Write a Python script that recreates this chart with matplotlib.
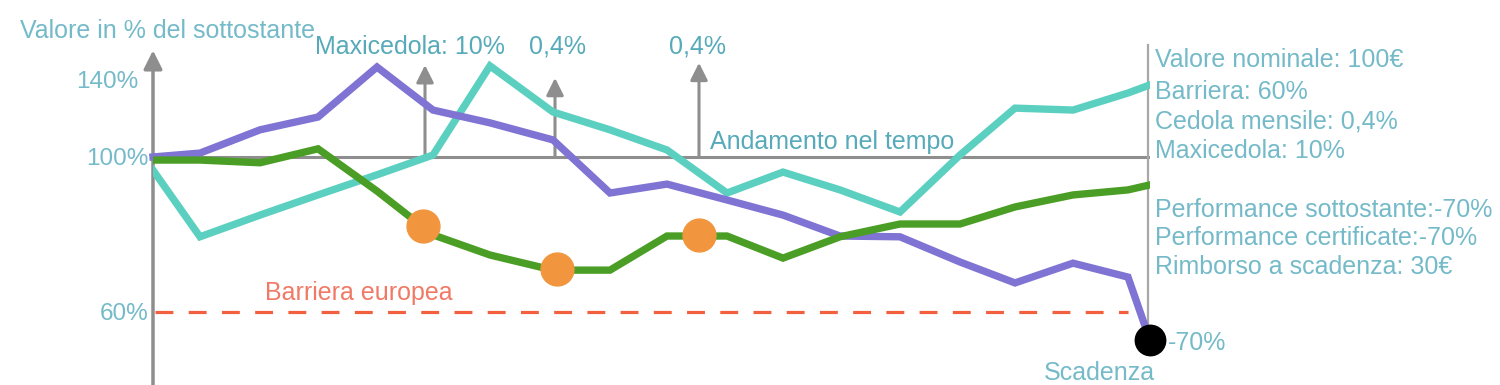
import matplotlib
matplotlib.use('Agg')
import matplotlib.pyplot as plt

plt.rcParams['font.family'] = ['Liberation Sans', 'DejaVu Sans']

# time axis (schematic units along the horizontal axis)
t = [0, 47, 107, 165, 224, 280, 337, 400, 457, 514, 574, 630, 687, 747, 807, 862, 920, 975, 997]

# schematic levels (in % of the underlying, drawn on a non-uniform schematic scale)
purple = [100.0, 101.0, 107.0, 110.3, 123.2, 112.1, 108.8, 104.4, 90.7, 93.0,
          88.9, 85.0, 79.6, 79.4, 72.9, 67.5, 72.6, 69.0, 52.7]
teal = [96.6, 79.4, 85.0, 90.2, 95.4, 100.5, 123.5, 111.6, 107.0, 101.8,
        90.7, 96.1, 91.5, 85.8, 100.5, 112.6, 112.1, 116.5, 118.6]
green = [99.2, 99.2, 98.5, 102.1, 91.2, 79.9, 74.7, 70.8, 70.8, 79.6,
         79.6, 73.9, 79.4, 82.7, 82.7, 87.1, 90.2, 91.5, 92.8]

coupon_t = [270, 404, 546]
coupon_level = [82.2, 71.1, 79.9]
arrow_t = [272, 402, 546]
arrow_top = [123.7, 120.4, 124.3]
arrow_labels = ['Maxicedola: 10%', '0,4%', '0,4%']

maturity_t = 997
maturity_level = 52.7

ytick_pos = [60, 100, 119.9]
ytick_labels = ['60%', '100%', '140%']

info_top = ['Valore nominale: 100€', 'Barriera: 60%', 'Cedola mensile: 0,4%', 'Maxicedola: 10%']
info_top_y = [60, 92, 121, 151]
info_bottom = ['Performance sottostante:-70%', 'Performance certificate:-70%', 'Rimborso a scadenza: 30€']
info_bottom_y = [210, 238, 267]

TXT = '#74BAC9'
TXT2 = '#56AAB9'
GREY = '#8E8E8E'
FS = 18

fig = plt.figure(figsize=(15, 3.85), dpi=100)
ax = fig.add_axes([153 / 1500, 0, 997 / 1500, 1])
ax.set_xlim(0, 997)
ax.set_ylim(41.16, 140.5)
for s in ax.spines.values():
    s.set_visible(False)
ax.set_xticks([])
ax.set_yticks(ytick_pos)
ax.set_yticklabels(ytick_labels, color=TXT, fontsize=17.5)
ax.tick_params(axis='y', length=0, pad=3)
ax.get_yticklabels()[2].set_x(-10 / 997)

# barrier
ax.plot([2, 975], [60, 60], color='#F2603F', lw=2.3, ls=(0, (5.6, 4.8)), zorder=2)
ax.text(112, 65, 'Barriera europea', color='#F07A66', fontsize=FS, ha='left', va='center')

# reference lines
ax.plot([0, 995], [100, 100], color=GREY, lw=2.2, zorder=1)
ax.plot([995, 995], [52.7, 128.9], color='#A8A8A8', lw=1.6, zorder=1, clip_on=False)
ax.annotate('', xy=(0, 127.5), xytext=(0, 41.16),
            arrowprops=dict(arrowstyle='-|>', color=GREY, lw=2.5, mutation_scale=28, shrinkA=0, shrinkB=0))
ax.text(-133, 132.6, 'Valore in % del sottostante', color=TXT, fontsize=FS, ha='left', va='center')

# coupon arrows
for x, top in zip(arrow_t, arrow_top):
    ax.annotate('', xy=(x, top), xytext=(x, 100),
                arrowprops=dict(arrowstyle='-|>', color=GREY, lw=2.2, mutation_scale=26, shrinkA=0, shrinkB=0))
xlab = [257, 404, 545]
for x, lab in zip(xlab, arrow_labels):
    ax.text(x, 128.5, lab, color=TXT2, fontsize=FS, ha='center', va='center')
ax.text(557, 103.8, 'Andamento nel tempo', color=TXT2, fontsize=FS, ha='left', va='center')

# series
ax.plot(t, teal, color='#5CD0C0', lw=5.3, solid_joinstyle='miter', zorder=3)
ax.plot(t, purple, color='#7F73D3', lw=5.3, solid_joinstyle='miter', zorder=4, clip_on=False)
ax.plot(t, green, color='#4B9E25', lw=5.3, solid_joinstyle='miter', zorder=5)
ax.scatter(coupon_t, coupon_level, s=560, color='#F1963E', zorder=6)
ax.scatter([maturity_t], [maturity_level], s=480, color='black', zorder=7, clip_on=False)

ax.text(1015, 52, '-70%', color=TXT, fontsize=FS, ha='left', va='center', clip_on=False)
ax.text(946, 44.2, 'Scadenza', color=TXT, fontsize=FS, ha='center', va='center')

# info box on the right
for s, py in zip(info_top, info_top_y):
    fig.text(1155 / 1500, 1 - py / 385, s, color=TXT, fontsize=FS, ha='left', va='center')
for s, py in zip(info_bottom, info_bottom_y):
    fig.text(1155 / 1500, 1 - py / 385, s, color=TXT, fontsize=FS, ha='left', va='center')

fig.savefig('out.png', dpi=100)
